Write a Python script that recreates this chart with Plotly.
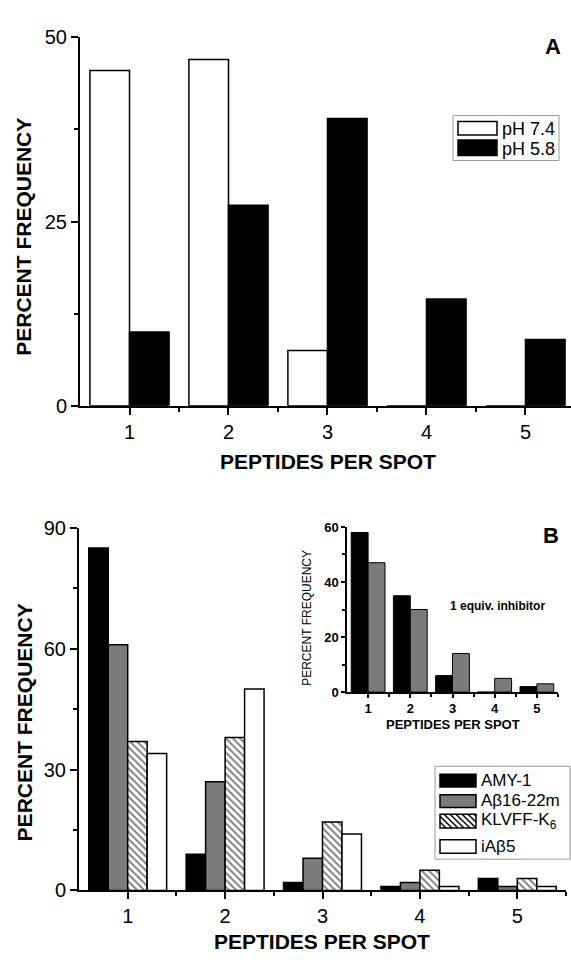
import plotly.graph_objects as go

W, H = 571, 964

# ---------------- data ----------------
categories = [1, 2, 3, 4, 5]
tick_labels = ["1", "2", "3", "4", "5"]

# Panel A
ph74 = [45.5, 47.0, 7.5, 0, 0]
ph58 = [10.0, 27.2, 39.0, 14.5, 9.0]

# Panel B
amy1 = [85, 9, 2, 1, 3]
abeta = [61, 27, 8, 2, 1]
klvff = [37, 38, 17, 5, 3]
iab5 = [34, 50, 14, 1, 1]

# Inset (1 equiv. inhibitor)
inset_amy1 = [58, 35, 6, 0, 2]
inset_abeta = [47, 30, 14, 5, 3]

# ---------------- styling ----------------
NARROW = "Liberation Sans Narrow, Arial Narrow, Liberation Sans, Arial, sans-serif"
GRAY = "#7b7b7b"
LINE = dict(color="black", width=1.5)


def px(x):
    return x / W


def py(y):
    return 1 - y / H


fig = go.Figure()

# Panel A
fig.add_trace(go.Bar(x=categories, y=ph74, name="pH 7.4", marker=dict(color="white", line=LINE),
                     xaxis="x", yaxis="y", offsetgroup="a1", showlegend=False))
fig.add_trace(go.Bar(x=categories, y=ph58, name="pH 5.8", marker=dict(color="black", line=LINE),
                     xaxis="x", yaxis="y", offsetgroup="a2", showlegend=False))

# Panel B
fig.add_trace(go.Bar(x=categories, y=amy1, name="AMY-1", marker=dict(color="black", line=LINE),
                     xaxis="x2", yaxis="y2", offsetgroup="b1", showlegend=False))
fig.add_trace(go.Bar(x=categories, y=abeta, name="Aβ16-22m", marker=dict(color=GRAY, line=LINE),
                     xaxis="x2", yaxis="y2", offsetgroup="b2", showlegend=False))
fig.add_trace(go.Bar(x=categories, y=klvff, name="KLVFF-K6",
                     marker=dict(color="white", line=LINE,
                                 pattern=dict(shape="\\", fgcolor="black", bgcolor="white",
                                              size=5, solidity=0.4)),
                     xaxis="x2", yaxis="y2", offsetgroup="b3", showlegend=False))
fig.add_trace(go.Bar(x=categories, y=iab5, name="iAβ5", marker=dict(color="white", line=LINE),
                     xaxis="x2", yaxis="y2", offsetgroup="b4", showlegend=False))

# Inset
fig.add_trace(go.Bar(x=categories, y=inset_amy1, name="AMY-1 (1 equiv.)",
                     marker=dict(color="black", line=dict(color="black", width=1)),
                     xaxis="x3", yaxis="y3", offsetgroup="c1", showlegend=False))
fig.add_trace(go.Bar(x=categories, y=inset_abeta, name="Aβ16-22m (1 equiv.)",
                     marker=dict(color=GRAY, line=dict(color="black", width=1)),
                     xaxis="x3", yaxis="y3", offsetgroup="c2", showlegend=False))

axis_common = dict(showline=True, linecolor="black", linewidth=2, ticks="outside",
                   tickcolor="black", tickwidth=2, showgrid=False, zeroline=False,
                   mirror=False)

fig.update_layout(
    width=W, height=H,
    margin=dict(l=0, r=0, t=0, b=0),
    paper_bgcolor="white", plot_bgcolor="rgba(0,0,0,0)",
    barmode="group", bargap=0.2, bargroupgap=0,
    showlegend=False,
    font=dict(family=NARROW, color="black"),
    xaxis=dict(domain=[px(80), 1.0], range=[0.5, 5.46], anchor="y",
               tickvals=categories, ticktext=tick_labels, ticklen=7,
               tickfont=dict(size=20),
               minor=dict(tickvals=[1.5, 2.5, 3.5, 4.5], ticks="outside", ticklen=4,
                          tickwidth=2, tickcolor="black"),
               **axis_common),
    yaxis=dict(domain=[py(404), py(27)], range=[0, 50], anchor="x",
               tickvals=[0, 25, 50], ticklen=7, tickfont=dict(size=20),
               minor=dict(tickvals=[12.5, 37.5], ticks="outside", ticklen=4,
                          tickwidth=2, tickcolor="black"),
               **axis_common),
    xaxis2=dict(domain=[px(79), px(566)], range=[0.5, 5.5], anchor="y2",
                tickvals=categories, ticktext=tick_labels, ticklen=7,
                tickfont=dict(size=20),
                minor=dict(tickvals=[1.5, 2.5, 3.5, 4.5, 5.5], ticks="outside", ticklen=4,
                           tickwidth=2, tickcolor="black"),
                **axis_common),
    yaxis2=dict(domain=[py(900), py(529)], range=[0, 90], anchor="x2",
                tickvals=[0, 30, 60, 90], ticklen=7, tickfont=dict(size=20),
                minor=dict(tickvals=[15, 45, 75], ticks="outside", ticklen=4,
                           tickwidth=2, tickcolor="black"),
                **axis_common),
    xaxis3=dict(domain=[px(347), px(558)], range=[0.5, 5.5], anchor="y3",
                tickvals=categories, ticktext=tick_labels, ticklen=4,
                tickfont=dict(size=13, weight="bold"),
                minor=dict(tickvals=[1.5, 2.5, 3.5, 4.5, 5.5], ticks="outside", ticklen=3,
                           tickwidth=1.5, tickcolor="black"),
                showline=True, linecolor="black", linewidth=1.5, ticks="outside",
                tickcolor="black", tickwidth=1.5, showgrid=False, zeroline=False),
    yaxis3=dict(domain=[py(697), py(528)], range=[0, 60], anchor="x3",
                tickvals=[0, 20, 40, 60], ticklen=4,
                tickfont=dict(size=13, weight="bold"),
                minor=dict(tickvals=[10, 30, 50], ticks="outside", ticklen=3,
                           tickwidth=1.5, tickcolor="black"),
                showline=True, linecolor="black", linewidth=1.5, ticks="outside",
                tickcolor="black", tickwidth=1.5, showgrid=False, zeroline=False),
)

annotations = []
shapes = []


def text(x, y, s, size, bold=False, angle=0, xanchor="center", family=NARROW):
    annotations.append(dict(x=px(x), y=py(y), xref="paper", yref="paper", text=s,
                            showarrow=False, textangle=angle, xanchor=xanchor,
                            yanchor="middle",
                            font=dict(size=size, family=family, color="black",
                                      weight="bold" if bold else "normal")))


def rect(x0, y0, x1, y1, fill, line_color="black", width=1.5):
    shapes.append(dict(type="rect", xref="paper", yref="paper",
                       x0=px(x0), x1=px(x1), y0=py(y1), y1=py(y0),
                       fillcolor=fill, line=dict(color=line_color, width=width)))


def hatch(x0, y0, x1, y1, step=6):
    h = y1 - y0
    a = x0 - h
    while a < x1:
        xs, xe = max(a, x0), min(a + h, x1)
        if xs < xe:
            shapes.append(dict(type="line", xref="paper", yref="paper",
                               x0=px(xs), y0=py(y0 + (xs - a)),
                               x1=px(xe), y1=py(y0 + (xe - a)),
                               line=dict(color="black", width=1.5)))
        a += step


# Axis titles
text(24, 231, "PERCENT FREQUENCY", 21, bold=True, angle=-90)
text(328, 461, "PEPTIDES PER SPOT", 21, bold=True)
text(24, 728, "PERCENT FREQUENCY", 21, bold=True, angle=-90)
text(322, 952, "PEPTIDES PER SPOT", 21, bold=True)
# inset titles
text(307, 621, "PERCENT FREQUENCY", 12, angle=-90)
text(453, 730, "PEPTIDES PER SPOT", 13, bold=True)
text(497, 609, "1 equiv. inhibitor", 12, bold=True)

# Panel letters
text(553, 36, "A", 22, bold=True, family="Liberation Sans, Arial, sans-serif")
text(551, 537, "B", 22, bold=True, family="Liberation Sans, Arial, sans-serif")

# Legend A
rect(453, 107, 559, 153, "white", line_color="#9a9a9a", width=1)
rect(458, 113, 497, 127, "white")
rect(458, 132, 497, 148, "black")
text(500, 121, "pH 7.4", 18, xanchor="left")
text(500, 141, "pH 5.8", 18, xanchor="left")

# Legend B
rect(435, 773, 570, 868, "white", line_color="#9a9a9a", width=1)
rect(440, 781, 476, 794, "black")
rect(440, 802, 476, 815, GRAY)
rect(440, 822, 476, 836, "white")
hatch(440, 822, 476, 836)
rect(440, 848, 476, 862, "white")
text(479, 787, "AMY-1", 17, xanchor="left")
text(479, 808, "Aβ16-22m", 17, xanchor="left")
text(479, 829, "KLVFF-K<sub>6</sub>", 17, xanchor="left")
text(479, 855, "iAβ5", 17, xanchor="left")

fig.update_layout(annotations=annotations, shapes=shapes)

fig.write_html(
    "out.html",
    config={"displayModeBar": False},
    post_script="document.body.style.margin='0';document.body.style.padding='0';"
                "document.body.style.overflow='hidden';",
)
